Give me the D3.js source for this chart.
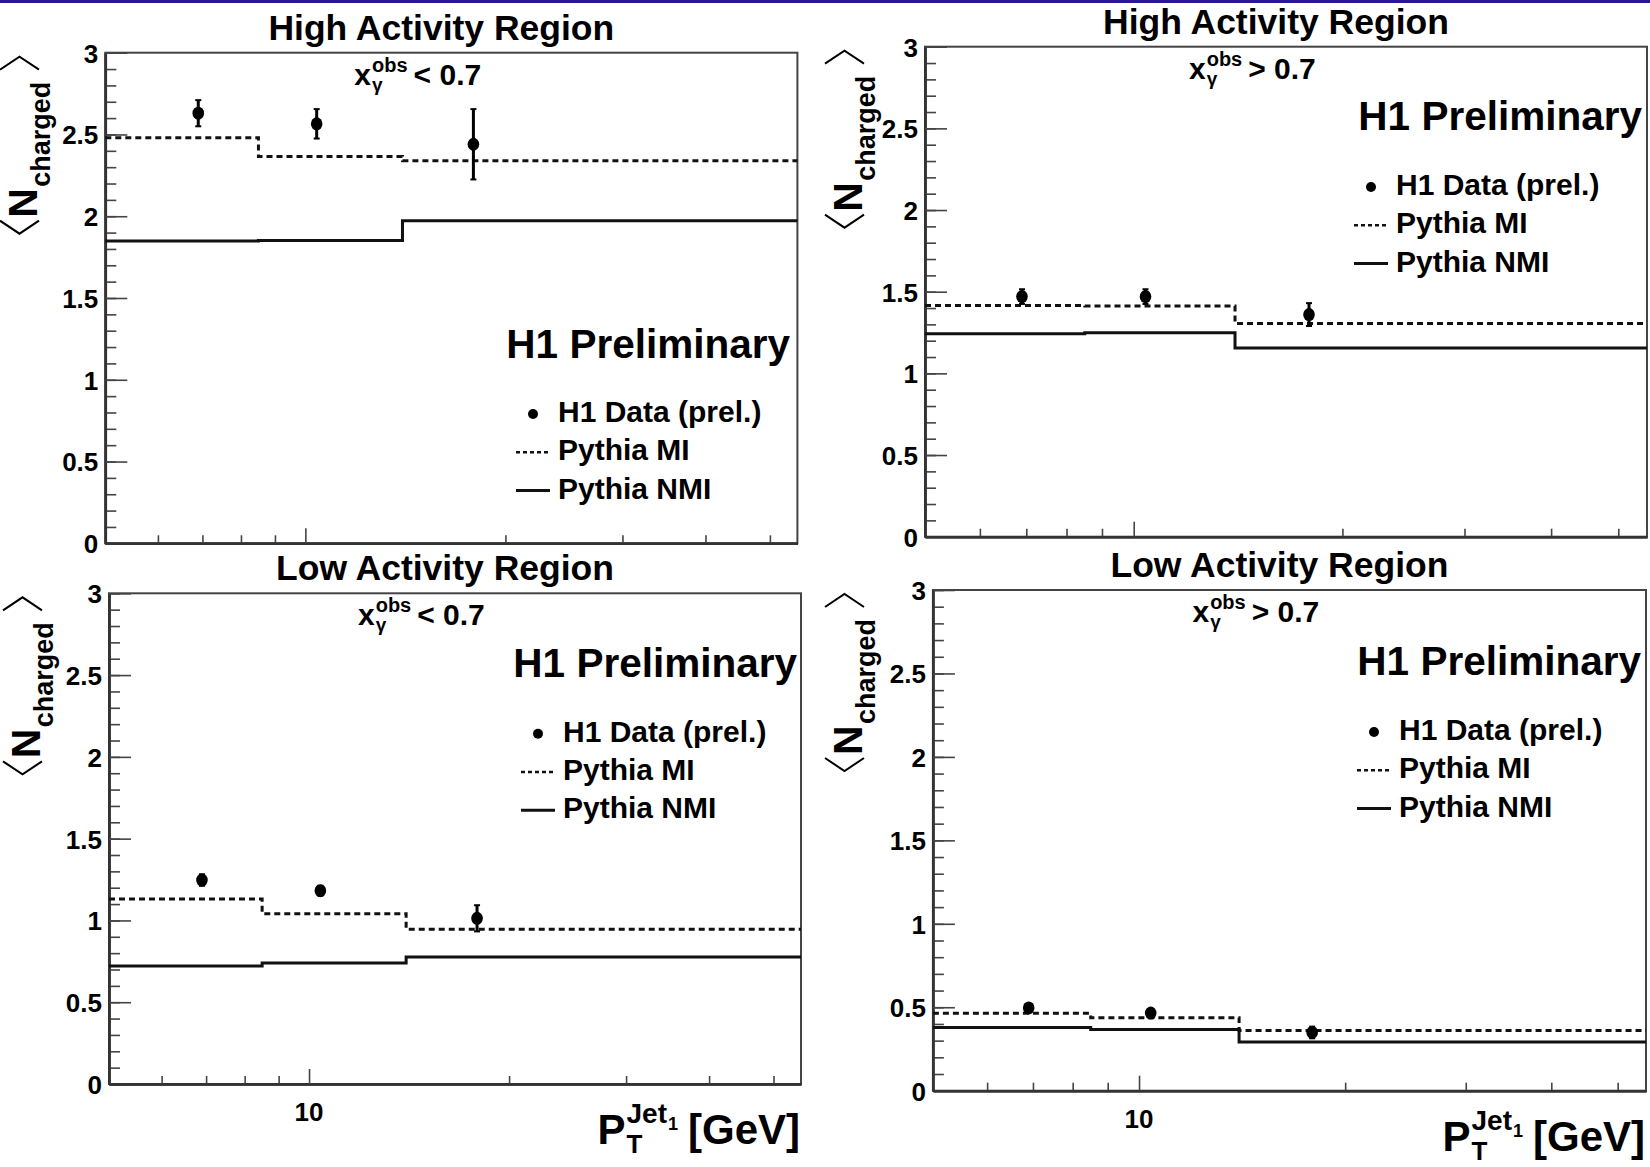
<!DOCTYPE html>
<html><head><meta charset="utf-8">
<script src="https://cdn.jsdelivr.net/npm/d3@7"></script>
<style>
body{margin:0;background:#fff;}
svg{display:block;}
text{font-family:"Liberation Sans",Arial,Helvetica,sans-serif;font-weight:bold;fill:#000;}
</style>
</head><body>
<svg id="c" width="1650" height="1167"></svg>
<script>
// ---------------- DATA ----------------
const xEdges = [5, 8.5, 14, 55];
const xCenters = [6.9, 10.4, 17.9];
const panelTitles = ["High Activity Region", "High Activity Region", "Low Activity Region", "Low Activity Region"];
const xgammaCuts = ["< 0.7", "> 0.7", "< 0.7", "> 0.7"];

const h1DataHighLo = [2.63, 2.565, 2.44];
const h1ErrHighLo = [0.08, 0.09, 0.215];
const pythiaMIHighLo = [2.48, 2.365, 2.34];
const pythiaNMIHighLo = [1.848, 1.852, 1.973];

const h1DataHighHi = [1.47, 1.47, 1.36];
const h1ErrHighHi = [0.045, 0.045, 0.07];
const pythiaMIHighHi = [1.415, 1.412, 1.305];
const pythiaNMIHighHi = [1.242, 1.248, 1.155];

const h1DataLowLo = [1.247, 1.182, 1.013];
const h1ErrLowLo = [0.035, 0.03, 0.08];
const pythiaMILowLo = [1.131, 1.041, 0.946];
const pythiaNMILowLo = [0.722, 0.739, 0.776];

const h1DataLowHi = [0.496, 0.465, 0.349];
const h1ErrLowHi = [0.015, 0.015, 0.035];
const pythiaMILowHi = [0.464, 0.437, 0.36];
const pythiaNMILowHi = [0.378, 0.367, 0.292];

const yTickValues = [0, 0.5, 1, 1.5, 2, 2.5, 3];
const yTickLabels = ["0", "0.5", "1", "1.5", "2", "2.5", "3"];
const xMinorTickValues = [6, 7, 8, 9, 20, 30, 40, 50];
const xMajorTickValues = [10];
const xMajorTickLabels = ["10"];
const legendLabels = ["H1 Data (prel.)", "Pythia MI", "Pythia NMI"];
const prelimLabel = "H1 Preliminary";

// ---------------- LAYOUT ----------------
const series = [
  {data: h1DataHighLo, err: h1ErrHighLo, mi: pythiaMIHighLo, nmi: pythiaNMIHighLo},
  {data: h1DataHighHi, err: h1ErrHighHi, mi: pythiaMIHighHi, nmi: pythiaNMIHighHi},
  {data: h1DataLowLo, err: h1ErrLowLo, mi: pythiaMILowLo, nmi: pythiaNMILowLo},
  {data: h1DataLowHi, err: h1ErrLowHi, mi: pythiaMILowHi, nmi: pythiaNMILowHi}
];
const panels = [
  {frame: [105.3, 52.7, 797.4, 543.3], prelimBase: 358, prelimEnd: 790, legLeft: 516, legBase: 422, ylabX: 37, xTitle: false},
  {frame: [925, 46.7, 1647, 536.7], prelimBase: 130, prelimEnd: 1642, legLeft: 1354, legBase: 195, ylabX: 862, xTitle: false},
  {frame: [109, 593.3, 801, 1084], prelimBase: 676.7, prelimEnd: 797, legLeft: 521, legBase: 741.7, ylabX: 40, xTitle: true},
  {frame: [932.9, 590, 1646, 1090.7], prelimBase: 675, prelimEnd: 1641, legLeft: 1357, legBase: 740, ylabX: 862, xTitle: true}
];

const svg = d3.select('#c');
svg.append('rect').attr('width', 1650).attr('height', 1167).attr('fill', '#fff');
svg.append('rect').attr('x', 0).attr('y', 0).attr('width', 1650).attr('height', 3).attr('fill', '#2b178f');

function txt(g, x, y, s, size, anchor) {
  return g.append('text').attr('x', x).attr('y', y).attr('font-size', size)
    .attr('text-anchor', anchor || 'start').text(s);
}
const W = sel => sel.node().getComputedTextLength();

panels.forEach((p, i) => {
  const [L, T, R, B] = p.frame;
  const s = series[i];
  const x = d3.scaleLog().domain([xEdges[0], xEdges[xEdges.length - 1]]).range([L, R]);
  const y = d3.scaleLinear().domain([0, 3]).range([B, T]);
  const g = svg.append('g');

  // frame
  g.append('rect').attr('x', L).attr('y', T).attr('width', R - L).attr('height', B - T)
    .attr('fill', 'none').attr('stroke', '#444').attr('stroke-width', 2);

  // y minor ticks
  const yMinor = g.append('g').attr('transform', `translate(${L},0)`)
    .call(d3.axisLeft(y).ticks(30).tickSizeInner(-11).tickSizeOuter(0).tickFormat(''));
  // y major ticks + labels
  const yMajor = g.append('g').attr('transform', `translate(${L},0)`)
    .call(d3.axisLeft(y).tickValues(yTickValues).tickSizeInner(-22).tickSizeOuter(0).tickPadding(7)
      .tickFormat((d, k) => yTickLabels[k]));
  yMajor.selectAll('text').attr('font-size', 26).attr('font-family', '"Liberation Sans",Arial,sans-serif')
    .attr('font-weight', 'bold').attr('fill', '#000').attr('dy', '0.36em');

  // x ticks
  const xMinor = g.append('g').attr('transform', `translate(0,${B})`)
    .call(d3.axisBottom(x).tickValues(xMinorTickValues).tickSizeInner(-8).tickSizeOuter(0).tickFormat(''));
  const xMajor = g.append('g').attr('transform', `translate(0,${B})`)
    .call(d3.axisBottom(x).tickValues(xMajorTickValues).tickSizeInner(-15).tickSizeOuter(0).tickFormat(''));
  [yMinor, yMajor, xMinor, xMajor].forEach(a => {
    a.select('.domain').attr('stroke', '#333').attr('stroke-width', 2.5);
    a.selectAll('.tick line').attr('stroke', '#444').attr('stroke-width', 1.6);
  });
  if (p.xTitle) {
    xMajorTickValues.forEach((v, k) => txt(g, x(v), B + 37, xMajorTickLabels[k], 26, 'middle'));
  }

  // histograms
  const step = arr => { const pts = []; arr.forEach((v, k) => { pts.push([xEdges[k], v]); pts.push([xEdges[k + 1], v]); }); return pts; };
  const line = d3.line().x(d => x(d[0])).y(d => y(d[1]));
  g.append('path').attr('d', line(step(s.nmi))).attr('fill', 'none').attr('stroke', '#111').attr('stroke-width', 3);
  g.append('path').attr('d', line(step(s.mi))).attr('fill', 'none').attr('stroke', '#111')
    .attr('stroke-width', 3).attr('stroke-dasharray', '6,4');

  // data points
  s.data.forEach((v, k) => {
    const cx = x(xCenters[k]);
    const y1 = y(v + s.err[k]), y0 = y(v - s.err[k]);
    g.append('line').attr('x1', cx).attr('x2', cx).attr('y1', y1).attr('y2', y0).attr('stroke', '#000').attr('stroke-width', 3);
    [y1, y0].forEach(yy => g.append('line').attr('x1', cx - 3).attr('x2', cx + 3).attr('y1', yy).attr('y2', yy)
      .attr('stroke', '#000').attr('stroke-width', 2));
    g.append('ellipse').attr('cx', cx).attr('cy', y(v)).attr('rx', 5.8).attr('ry', 6.5).attr('fill', '#000');
  });

  // title
  const cx = (L + R) / 2;
  txt(g, cx - 10, T - 13, panelTitles[i], 35.5, 'middle');

  // x_gamma label
  const x0 = cx - 97, base = T + 32;
  const tx = txt(g, x0, base, 'x', 30);
  const w1 = W(tx);
  const sup = txt(g, x0 + w1 + 1, base - 13, 'obs', 20);
  const sub = txt(g, x0 + w1 + 1, base + 6, 'γ', 19);
  const w2 = Math.max(W(sup), W(sub));
  txt(g, x0 + w1 + w2 + 7, base, xgammaCuts[i], 30);

  // H1 Preliminary
  txt(g, p.prelimEnd, p.prelimBase, prelimLabel, 40.5, 'end');

  // legend
  const lx = p.legLeft, lb = p.legBase, dy = 38.3;
  g.append('circle').attr('cx', lx + 17).attr('cy', lb - 8).attr('r', 5).attr('fill', '#000');
  g.append('line').attr('x1', lx).attr('x2', lx + 34).attr('y1', lb + dy - 8).attr('y2', lb + dy - 8)
    .attr('stroke', '#111').attr('stroke-width', 2.4).attr('stroke-dasharray', '4,3');
  g.append('line').attr('x1', lx).attr('x2', lx + 34).attr('y1', lb + 2 * dy - 8).attr('y2', lb + 2 * dy - 8)
    .attr('stroke', '#111').attr('stroke-width', 3);
  legendLabels.forEach((lab, k) => txt(g, lx + 42, lb + k * dy, lab, 30));

  // y label (rotated) <N_charged>
  const by = T + 182;
  const G = g.append('g').attr('transform', `translate(${p.ylabX},${by}) rotate(-90)`);
  G.append('path').attr('d', 'M14,-37 L1,-17.5 L14,2').attr('fill', 'none').attr('stroke', '#000').attr('stroke-width', 2);
  txt(G, 17, 0, 'N', 41);
  txt(G, 48, 13, 'charged', 27);
  G.append('path').attr('d', 'M165,-37 L178,-17.5 L165,2').attr('fill', 'none').attr('stroke', '#000').attr('stroke-width', 2);

  // x title
  if (p.xTitle) {
    const xb = B + 60;
    const XG = g.append('g');
    const tP = txt(XG, 0, 0, 'P', 42);
    const wP = W(tP);
    const tT = txt(XG, wP + 1, 9, 'T', 26);
    const tJ = txt(XG, wP + 1, -21, 'Jet', 28);
    const wJ = W(tJ);
    const t1 = txt(XG, wP + 1 + wJ + 1, -14, '1', 18);
    const end = Math.max(wP + 1 + W(tT), wP + 2 + wJ + W(t1));
    const tG = txt(XG, end + 10, 0, '[GeV]', 42);
    const total = end + 10 + W(tG);
    XG.attr('transform', `translate(${R - 1 - total},${xb})`);
  }
});
</script>
</body></html>
